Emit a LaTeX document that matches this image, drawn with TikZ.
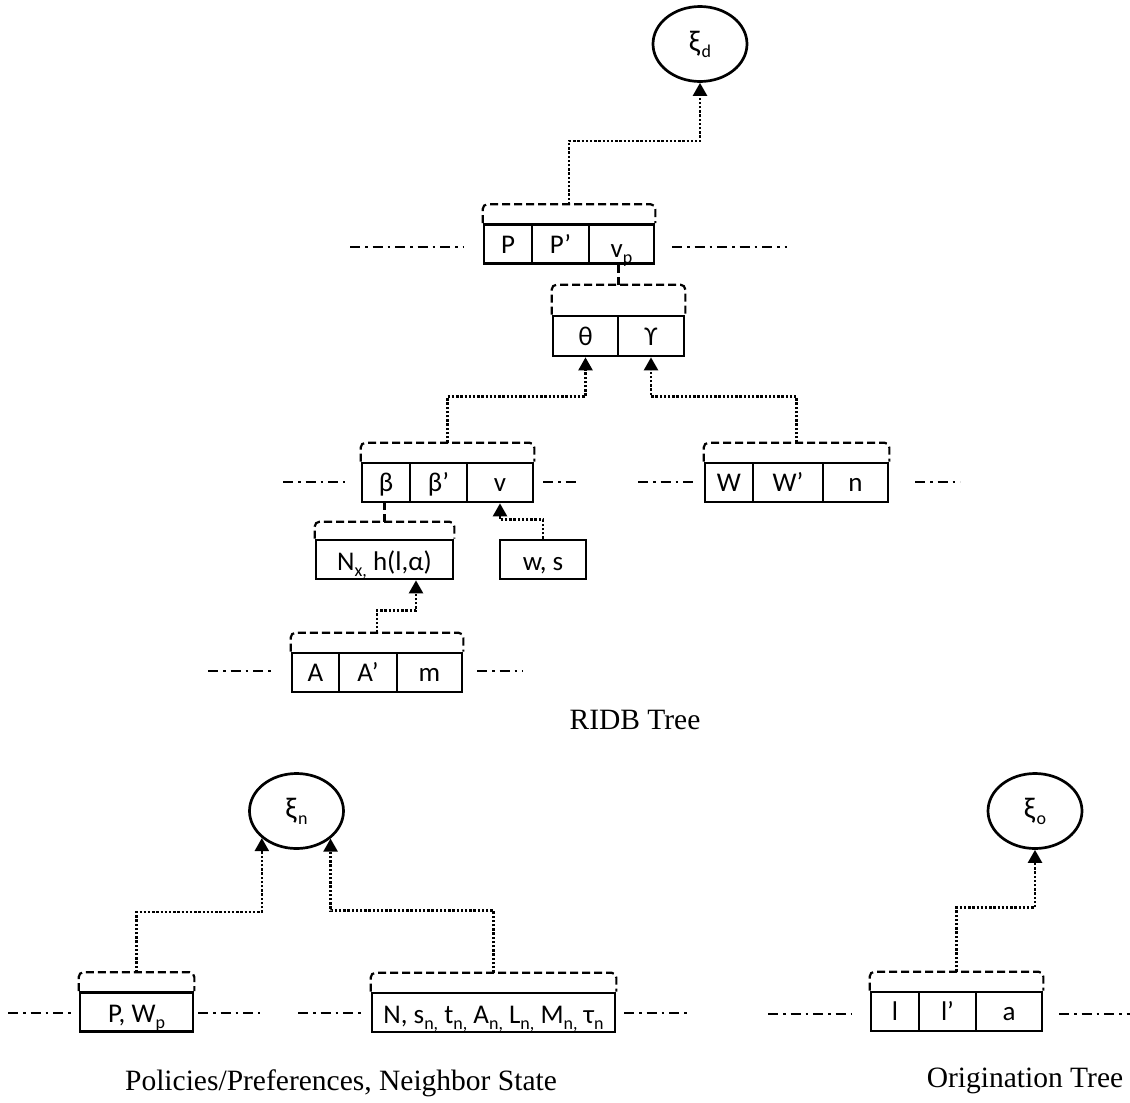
\documentclass[tikz,border=0pt]{standalone}
\usepackage{fontspec}
\setmainfont{Liberation Serif}
\newfontfamily\cellfont{Carlito}
\usetikzlibrary{arrows.meta,calc,shapes.geometric}

% lowered small index, as in the field labels
\newcommand\lsub[1]{\raisebox{-6pt}{\fontsize{18}{18}\selectfont #1}}
% dashed brace over a record: name of its top-centre coordinate, first cell, last cell, height
\newcommand\recbrk[4]{%
  \coordinate (#1) at ($(#2.north west)!0.5!(#3.north east)+(0,-#4)$);
  \draw[brk] (#2.north west) -- ++(0,-#4) -| (#3.north east);}

\tikzset{
  cell/.style={draw, line width=2.7pt, minimum height=39pt, inner sep=0pt,
    text height=18pt, text depth=0pt,
    font=\cellfont\fontsize{27}{27}\selectfont},
  low/.style={text height=21pt},
  state/.style={draw, ellipse, line width=2.7pt, minimum width=94pt, minimum height=75pt,
    inner sep=0pt, font=\cellfont\fontsize{30}{30}\selectfont},
  brk/.style={line width=2.2pt, dash pattern=on 8pt off 4pt, rounded corners=5pt},
  conn/.style={line width=2.4pt, dash pattern=on 2.4pt off 1.8pt,
    -{Triangle[width=14pt,length=13pt]}},
  dd/.style={line width=2.6pt, dash pattern=on 10pt off 5pt on 2.5pt off 5pt},
  caption/.style={anchor=base, inner sep=0pt, font=\fontsize{29.5}{31}\selectfont},
}

\begin{document}
\begin{tikzpicture}[x=1pt,y=-1pt]
\useasboundingbox (0,0) rectangle (1130,1103);

% ---------------- RIDB tree ----------------
\node[state] (xid) at (700,44) {ξ\kern1.5pt\lsub{d}};

\node[cell, minimum width=48pt] (P)  at (508,244)   {P};
\node[cell, minimum width=57pt] (Pp) at (560.5,244) {P’};
\node[cell, minimum width=65pt, text height=27pt] (vp) at (621.5,244) {v\lsub{p}};
\recbrk{k1}{P}{vp}{19}
\draw[dd] (350,247) -- (463,247);
\draw[dd] (672,247) -- (787,247);

\node[cell, minimum width=65pt, minimum height=40pt] (theta) at (585.5,336) {θ};
\node[cell, minimum width=66pt, minimum height=40pt] (ups)   at (651,336)   {ϒ};
\recbrk{k2}{theta}{ups}{30}
\draw[brk] (k2) -- (k2 |- vp.south);

\node[cell, minimum width=48pt] (beta)  at (386,482.5)   {β};
\node[cell, minimum width=57pt] (betap) at (438.5,482.5) {β’};
\node[cell, minimum width=66pt] (v)     at (500,482.5)   {v};
\recbrk{k3}{beta}{v}{19}
\draw[dd] (283,482) -- (345,482);
\draw[dd] (543,482) -- (580,482);

\node[cell, minimum width=48pt] (W)  at (729,482.5)   {W};
\node[cell, minimum width=70pt] (Wp) at (788,482.5)   {W’};
\node[cell, minimum width=65pt] (n)  at (855.5,482.5) {n};
\recbrk{k4}{W}{n}{19}
\draw[dd] (638,482) -- (695,482);
\draw[dd] (915,482) -- (960,482);

\node[cell, low, minimum width=137pt] (Nx) at (384.5,559.5) {N\lsub{x,} h(l,α)};
\recbrk{k5}{Nx}{Nx}{17}
\draw[brk] (k5) -- (k5 |- beta.south);
\node[cell, low, minimum width=86pt] (ws) at (543,559.5) {w, s};

\node[cell, minimum width=47pt] (A)  at (315.5,672.5) {A};
\node[cell, minimum width=58pt] (Ap) at (368,672.5)   {A’};
\node[cell, minimum width=65pt] (m)  at (429.5,672.5) {m};
\recbrk{k6}{A}{m}{19}
\draw[dd] (208,671) -- (272,671);
\draw[dd] (477,671) -- (523,671);

\draw[conn] (k1) -- ++(0,-63) -| (xid.south);
\draw[conn] (k3) -- ++(0,-46) -| (theta.south);
\draw[conn] (k4) -- ++(0,-46) -| (ups.south);
\draw[conn] (ws.north) -- ++(0,-19) -| (v.south);
\draw[conn] (k6) -- ++(0,-22) -| ([xshift=31.5pt]Nx.south);

\node[caption] (t1) at (635,729) {RIDB Tree};

% ---------------- policies / neighbour state ----------------
\node[state] (xin) at (296.5,811) {ξ\kern1.5pt\lsub{n}};

\node[cell, low, minimum width=113pt] (PW) at (136.5,1012) {P, W\lsub{p}};
\recbrk{k7}{PW}{PW}{19}
\draw[dd] (8,1013) -- (72,1013);
\draw[dd] (198,1013) -- (260,1013);

\node[cell, low, minimum width=243pt] (N) at (493.5,1012.5)
  {N, s\lsub{n,} t\lsub{n,} A\lsub{n,} L\lsub{n,} M\lsub{n,} τ\lsub{n}};
\recbrk{k8}{N}{N}{19}
\draw[dd] (298,1013) -- (363,1013);
\draw[dd] (624,1013) -- (687,1013);

\draw[conn] (k7) -- ++(0,-60) -| (xin.218.6);
\draw[conn] (k8) -- ++(0,-62) -| (xin.321.4);

\node[caption] (t2) at (341,1090) {Policies/Preferences, Neighbor State};

% ---------------- origination tree ----------------
\node[state] (xio) at (1035,811) {ξ\kern1.5pt\lsub{o}};

\node[cell, minimum width=48pt] (l)  at (895,1011.5)    {l};
\node[cell, minimum width=57pt] (lp) at (947.5,1011.5)  {l’};
\node[cell, minimum width=66pt] (a)  at (1009,1011.5)   {a};
\recbrk{k9}{l}{a}{19}
\draw[dd] (768,1014) -- (852,1014);
\draw[dd] (1059,1014) -- (1130,1014);

\draw[conn] (k9) -- ++(0,-64) -| (xio.south);

\node[caption] (t3) at (1025,1087) {Origination Tree};
\end{tikzpicture}
\end{document}
